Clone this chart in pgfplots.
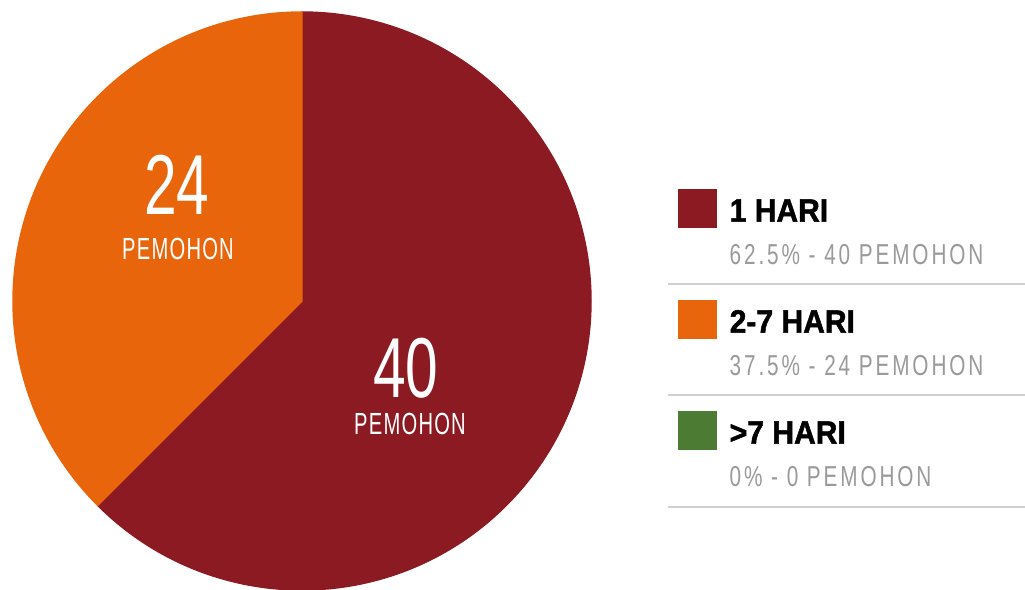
\documentclass[border=0pt]{standalone}
\usepackage{pgfplots}
\pgfplotsset{compat=1.18}
\usepackage{fontspec}
\setmainfont{Liberation Sans}
\newfontfamily\numfont{Liberation Sans}[FakeStretch=0.69]
\newfontfamily\pemfont{Liberation Sans}[FakeStretch=0.66,LetterSpace=4]
\newfontfamily\legbold{Liberation Sans}[FakeStretch=0.93,FakeBold=1.5]
\newfontfamily\leggray{Liberation Sans}[FakeStretch=0.72,LetterSpace=10]

\definecolor{pieRed}{HTML}{8C1A22}
\definecolor{pieOrange}{HTML}{E8650C}
\definecolor{pieGreen}{HTML}{4C7B34}
\definecolor{legGray}{HTML}{9A9A9A}
\definecolor{sepGray}{HTML}{D0D0D0}

% sectors: centre in pixels, start and end angle (40 and 24 of 64 respondents)
\pgfplotstableread{
x   y   start end
302 301 225   450
}\redsector
\pgfplotstableread{
x   y   start end
302 301 90    225
}\orangesector

\newcommand{\legtext}[2]{\vtop{\baselineskip=0.43cm\lineskiplimit=-1cm
  \hbox{\legbold\bfseries\fontsize{9.2}{10}\selectfont #1}
  \hbox{\leggray\fontsize{8.2}{9}\selectfont\color{legGray}#2}}}

\pgfplotsset{
  pie sector/.style={
    forget plot, scatter, only marks, mark=*, mark size=0pt,
    mark options={draw=none,fill=none},
    visualization depends on={\thisrow{start} \as \sa},
    visualization depends on={\thisrow{end} \as \ea},
    scatter/@pre marker code/.code={%
      \fill[#1] (0,0) -- (\sa:2.89cm) arc[start angle=\sa,end angle=\ea,radius=2.89cm] -- cycle;
      \scope},
    scatter/@post marker code/.code={\endscope},
  },
}

\begin{document}
\begin{tikzpicture}
\begin{axis}[
  at={(0,0)}, anchor=south west,
  scale only axis, width=10.25cm, height=5.9cm,
  xmin=0, xmax=1025, ymin=0, ymax=590, y dir=reverse,
  hide axis, clip=false,
  legend image code/.code={\fill[#1, draw=none] (0cm,0.145cm) rectangle (0.39cm,0.535cm);},
  legend cell align=left,
  legend style={at={(axis cs:677,186)}, anchor=north west, draw=none, fill=none,
    inner sep=0pt, column sep=0.13cm, row sep=0pt,
    nodes={inner sep=0pt, text height=0.35cm, text depth=0.76cm}},
]
\addplot[pie sector=pieRed] table[x=x,y=y] {\redsector};
\addplot[pie sector=pieOrange] table[x=x,y=y] {\orangesector};

\addlegendimage{fill=pieRed}
\addlegendentry{\legtext{1 HARI}{62.5\% - 40 PEMOHON}}
\addlegendimage{fill=pieOrange}
\addlegendentry{\legtext{2-7 HARI}{37.5\% - 24 PEMOHON}}
\addlegendimage{fill=pieGreen}
\addlegendentry{\legtext{>7 HARI}{0\% - 0 PEMOHON}}

\coordinate (n24) at (axis cs:177,215);
\coordinate (p24) at (axis cs:178,260);
\coordinate (n40) at (axis cs:406,398);
\coordinate (p40) at (axis cs:410,435);

\draw[sepGray, line width=0.6pt] (axis cs:668,284) -- (axis cs:1025,284);
\draw[sepGray, line width=0.6pt] (axis cs:668,395) -- (axis cs:1025,395);
\draw[sepGray, line width=0.6pt] (axis cs:668,507) -- (axis cs:1025,507);
\end{axis}
\begin{scope}[every node/.style={anchor=base, text=white, inner sep=0pt}]
\node[font=\numfont\fontsize{24.2}{26}\selectfont] at (n24) {24};
\node[font=\pemfont\fontsize{8.7}{10}\selectfont] at (p24) {PEMOHON};
\node[font=\numfont\fontsize{24.2}{26}\selectfont] at (n40) {40};
\node[font=\pemfont\fontsize{8.7}{10}\selectfont] at (p40) {PEMOHON};
\end{scope}
\pgfresetboundingbox
\path (0,0) rectangle (10.25cm,5.9cm);
\end{tikzpicture}
\end{document}
